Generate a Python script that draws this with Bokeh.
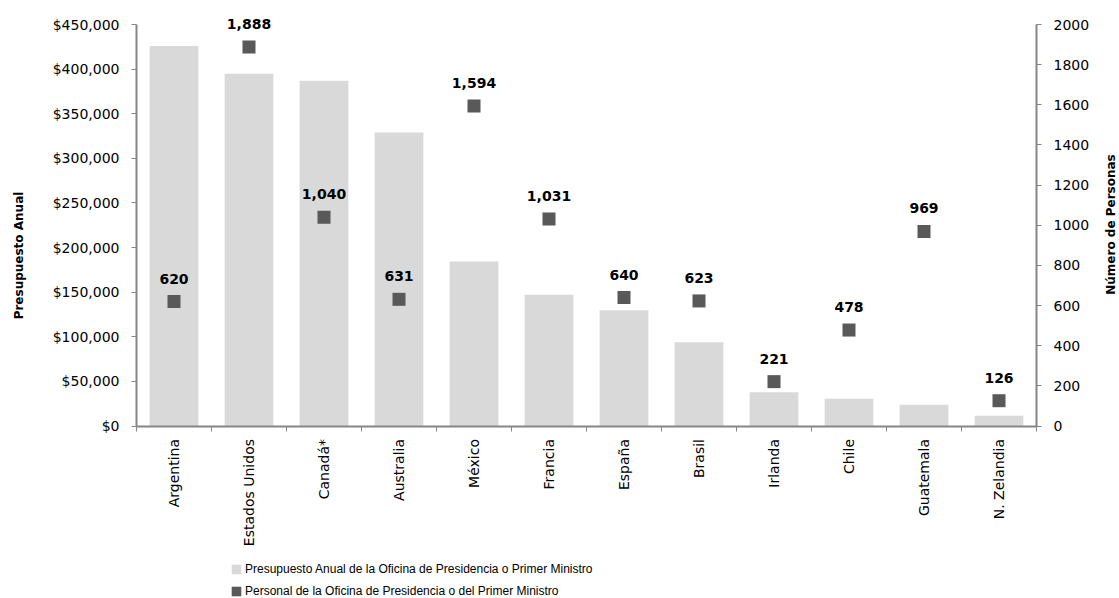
import math
from bokeh.plotting import figure
from bokeh.models import (Range1d, LinearAxis, FixedTicker, NumeralTickFormatter,
                          ColumnDataSource, Legend, LegendItem, Label)
from bokeh.core.properties import value
from bokeh.embed import file_html
from bokeh.resources import INLINE

countries = ["Argentina", "Estados Unidos", "Canadá*", "Australia", "México", "Francia",
             "España", "Brasil", "Irlanda", "Chile", "Guatemala", "N. Zelandia"]
presupuesto = [426000, 394700, 386900, 328900, 184400, 147000,
               129800, 93900, 37900, 30500, 23700, 11400]
personal = [620, 1888, 1040, 631, 1594, 1031, 640, 623, 221, 478, 969, 126]
left_max, right_max = 450000, 2000
left_step, right_step = 50000, 200

xs = list(range(len(countries)))
labels = [f"{v:,}" for v in personal]
src = ColumnDataSource(dict(x=xs, pres=presupuesto, pers=personal, lab=labels))

# Whole canvas is the plot frame; axes are fixed inside it.
W, H = 1119, 598
plot_left, plot_right = 136, 1036          # pixel edges of the category area
zero_px, top_axis_px = 425.5, 24           # pixel rows of 0 and of the axes' maximum
n = len(countries)
cat_px = (plot_right - plot_left) / n
x_lo = -0.5 - plot_left / cat_px
x_hi = n - 0.5 + (W - plot_right) / cat_px
span_px = zero_px - top_axis_px
y_lo_f = -(H - zero_px) / span_px
y_hi_f = zero_px / span_px

def px_to_x(px):
    return -0.5 + (px - plot_left) / cat_px

def px_to_y(py, vmax):
    return (zero_px - py) / span_px * vmax

p = figure(width=W, height=H, output_backend="svg", toolbar_location=None,
           x_range=Range1d(x_lo, x_hi),
           y_range=Range1d(left_max * y_lo_f, left_max * y_hi_f),
           min_border_left=0, min_border_right=0, min_border_top=0, min_border_bottom=0)
p.extra_y_ranges = {"right": Range1d(right_max * y_lo_f, right_max * y_hi_f)}
p.outline_line_color = None
p.xgrid.visible = False
p.ygrid.visible = False
p.background_fill_color = "white"
p.border_fill_color = "white"

bars = p.vbar(x="x", top="pres", width=0.65, source=src, fill_color="#D9D9D9", line_color=None)
sq = p.rect(x="x", y="pers", width=13, height=13, width_units="screen", height_units="screen",
            source=src, fill_color="#595959", line_color=None, y_range_name="right")
p.text(x="x", y="pers", text="lab", source=src, y_range_name="right",
       text_align="center", text_baseline="middle", y_offset=-23,
       text_font=value("DejaVu Sans"), text_font_style="bold", text_font_size="14px",
       text_color="#000000")

axis_color = "#868686"
font = "DejaVu Sans"

# x axis (fixed at zero)
xa = p.xaxis[0]
xa.fixed_location = 0
xa.ticker = FixedTicker(ticks=xs, minor_ticks=[i - 0.5 for i in range(n + 1)])
xa.bounds = (-0.5, n - 0.5)
xa.major_label_overrides = {i: c for i, c in enumerate(countries)}
xa.major_label_orientation = math.pi / 2
xa.major_tick_out = 0
xa.major_tick_in = 0
xa.minor_tick_out = 5
xa.minor_tick_in = 0
xa.minor_tick_line_color = axis_color
xa.axis_line_color = axis_color
xa.axis_line_width = 2
xa.major_label_text_font = font
xa.major_label_text_font_size = "14px"
xa.major_label_text_color = "#000000"
xa.major_label_standoff = 8

# left axis (fixed at the left edge of the categories)
ya = p.yaxis[0]
ya.fixed_location = -0.5
ya.ticker = FixedTicker(ticks=list(range(0, left_max + 1, left_step)))
ya.formatter = NumeralTickFormatter(format="$0,0")
ya.bounds = (0, left_max)
ya.minor_tick_line_color = None
ya.major_tick_out = 5
ya.major_tick_in = 0
ya.major_tick_line_color = axis_color
ya.axis_line_color = axis_color
ya.axis_line_width = 2
ya.major_label_text_font = font
ya.major_label_text_font_size = "14px"
ya.major_label_text_color = "#000000"
ya.major_label_standoff = 12

# right axis
ra = LinearAxis(y_range_name="right", ticker=FixedTicker(ticks=list(range(0, right_max + 1, right_step))))
ra.fixed_location = n - 0.5
ra.bounds = (0, right_max)
ra.minor_tick_line_color = None
ra.major_tick_out = 5
ra.major_tick_in = 0
ra.major_tick_line_color = axis_color
ra.axis_line_color = axis_color
ra.axis_line_width = 2
ra.major_label_text_font = font
ra.major_label_text_font_size = "14px"
ra.major_label_text_color = "#000000"
ra.major_label_standoff = 12
p.add_layout(ra, "right")

# axis titles
p.add_layout(Label(x=px_to_x(18), y=px_to_y(255, left_max), text="Presupuesto Anual",
                   angle=math.pi / 2, text_align="center", text_baseline="middle",
                   text_font=font, text_font_style="bold", text_font_size="12px",
                   text_color="#000000"))
p.add_layout(Label(x=px_to_x(1110), y=px_to_y(224, left_max), text="Número de Personas",
                   angle=math.pi / 2, text_align="center", text_baseline="middle",
                   text_font=font, text_font_style="bold", text_font_size="12px",
                   text_color="#000000"))

legend = Legend(items=[
    LegendItem(label="Presupuesto Anual de la Oficina de Presidencia o Primer Ministro", renderers=[bars]),
    LegendItem(label="Personal de la Oficina de Presidencia o del Primer Ministro", renderers=[sq]),
], location=(230, 0), orientation="vertical")
legend.label_text_font = "Liberation Sans"
legend.label_text_font_size = "12px"
legend.label_text_color = "#000000"
legend.glyph_width = 12
legend.glyph_height = 12
legend.label_standoff = 3
legend.spacing = 8
legend.padding = 0
legend.margin = 0
legend.border_line_color = None
legend.background_fill_alpha = 0
p.add_layout(legend, "center")

open("out.html", "w").write(file_html(p, INLINE))
